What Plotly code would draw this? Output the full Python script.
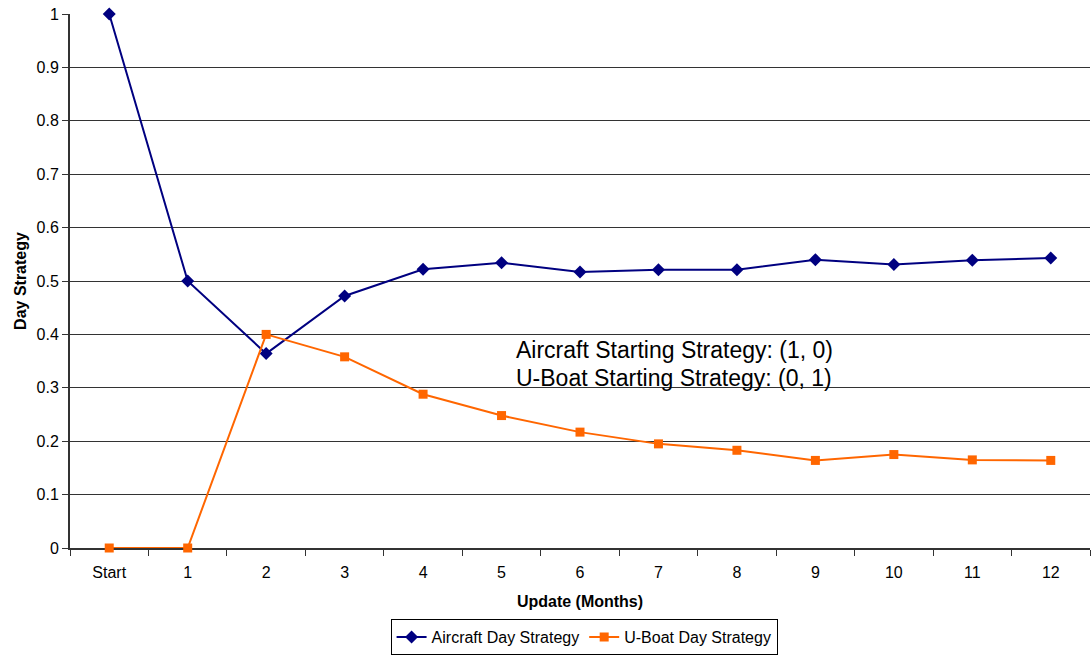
import plotly.graph_objects as go

months = ["Start", "1", "2", "3", "4", "5", "6", "7", "8", "9", "10", "11", "12"]
aircraft_day = [1.0, 0.5, 0.364, 0.472, 0.522, 0.534, 0.517, 0.521, 0.521, 0.540, 0.531, 0.539, 0.543]
uboat_day = [0.0, 0.0, 0.4, 0.358, 0.288, 0.248, 0.217, 0.195, 0.183, 0.164, 0.175, 0.165, 0.164]

note_lines = ["Aircraft Starting Strategy: (1, 0)", "U-Boat Starting Strategy: (0, 1)"]

FONT = "Liberation Sans, Arial, sans-serif"

fig = go.Figure()
fig.add_trace(go.Scatter(
    x=months, y=aircraft_day, mode="lines+markers", name="Aircraft Day Strategy",
    line=dict(color="#000080", width=2),
    marker=dict(symbol="diamond", size=10, color="#000080"),
    cliponaxis=False,
))
fig.add_trace(go.Scatter(
    x=months, y=uboat_day, mode="lines+markers", name="U-Boat Day Strategy",
    line=dict(color="#FF6600", width=2),
    marker=dict(symbol="square", size=9, color="#FF6600"),
    cliponaxis=False,
))

# starting-strategy note, one annotation per line
for line_text, ypos in zip(note_lines, [0.370, 0.318]):
    fig.add_annotation(
        x=0.435, y=ypos, xref="paper", yref="paper", xanchor="left", yanchor="middle",
        text=line_text, showarrow=False, align="left",
        font=dict(family=FONT, size=23, color="#000000"),
    )

fig.update_layout(
    width=1091, height=656,
    margin=dict(l=70, r=1, t=14, b=108, autoexpand=False),
    paper_bgcolor="white", plot_bgcolor="white",
    font=dict(family=FONT, size=16, color="#000000"),
    showlegend=True,
    legend=dict(
        orientation="h", x=0.504, y=-0.167, xanchor="center", yanchor="middle",
        bordercolor="#000000", borderwidth=1, font=dict(size=16),
        itemwidth=30, tracegroupgap=0,
    ),
    xaxis=dict(
        type="category", range=[-0.5, 12.5], automargin=False,
        showgrid=False, showline=True, linecolor="#333333", linewidth=1.5,
        ticks="outside", ticklen=6, tickcolor="#333333", tickson="boundaries",
        ticklabelstandoff=9, layer="below traces",
        title=dict(text="<b>Update (Months)</b>", font=dict(size=16), standoff=16),
    ),
    yaxis=dict(
        range=[0, 1], dtick=0.1, tick0=0, automargin=False,
        showgrid=True, gridcolor="#333333", gridwidth=1,
        showline=True, linecolor="#333333", linewidth=2,
        ticks="outside", ticklen=6, tickcolor="#333333",
        zeroline=False, layer="below traces",
        title=dict(text="<b>Day Strategy</b>", font=dict(size=16), standoff=6),
    ),
)

fig.write_html("out.html")
